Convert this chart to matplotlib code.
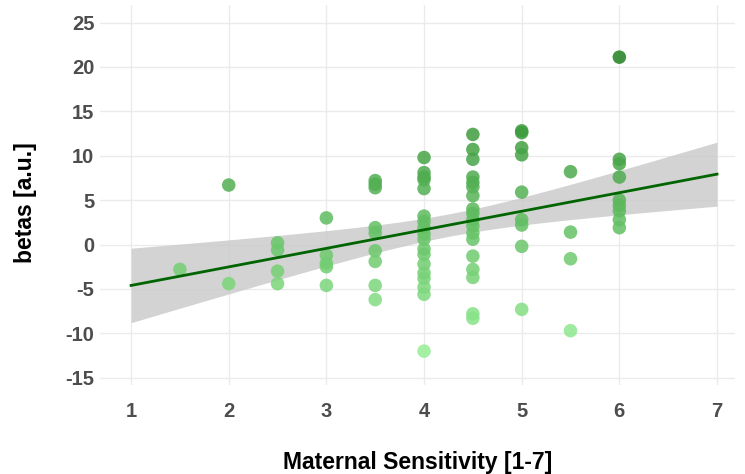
import numpy as np
import matplotlib
matplotlib.use("Agg")
import matplotlib.pyplot as plt
from matplotlib.colors import LinearSegmentedColormap

plt.rcParams["font.family"] = ["Liberation Sans Narrow", "Liberation Sans", "DejaVu Sans"]
plt.rcParams["axes.unicode_minus"] = False

# betas per maternal sensitivity rating
betas = {
    1.5: [-2.8],
    2.0: [6.7, -4.4],
    2.5: [0.2, -0.6, -3.0, -4.4],
    3.0: [3.0, -1.2, -2.1, -2.5, -4.6],
    3.5: [7.2, 6.8, 6.4, 1.9, 1.3, -0.7, -1.9, -4.6, -6.2],
    4.0: [9.8, 8.1, 7.6, 7.3, 6.3, 3.2, 2.6, 1.9, 1.2, 0.6, -0.5, -1.1, -2.2,
          -3.2, -3.8, -4.8, -5.6, -12.0],
    4.5: [12.4, 10.7, 9.6, 7.6, 7.0, 6.5, 5.5, 4.0, 3.5, 2.8, 2.1, 1.3, 0.6,
          -1.3, -2.8, -3.7, -7.8, -8.3],
    5.0: [12.8, 12.6, 10.9, 10.1, 5.9, 2.8, 2.2, -0.2, -7.3],
    5.5: [8.2, 1.4, -1.6, -9.7],
    6.0: [21.1, 9.6, 9.1, 7.6, 5.0, 4.4, 3.8, 2.8, 1.9],
}

x = np.concatenate([[k] * len(v) for k, v in betas.items()])
y = np.concatenate([v for v in betas.values()])

# linear fit with 95% confidence band
n = len(x)
b1, b0 = np.polyfit(x, y, 1)
xs = np.linspace(1, 7, 200)
ys = b0 + b1 * xs
resid = y - (b0 + b1 * x)
s = np.sqrt(np.sum(resid ** 2) / (n - 2))
se = s * np.sqrt(1 / n + (xs - x.mean()) ** 2 / np.sum((x - x.mean()) ** 2))
t = 1.99
lo, hi = ys - t * se, ys + t * se

cmap = LinearSegmentedColormap.from_list("greens", ["#95ee95", "#1f7f1f"])

fig = plt.figure(figsize=(7.45, 4.74), dpi=100)
ax = fig.add_axes([0.134, 0.188, 0.852, 0.802])

ax.fill_between(xs, lo, hi, color="#c8c8c8", alpha=0.8, linewidth=0, zorder=2)
ax.scatter(x, y, c=y, cmap=cmap, s=95, alpha=0.85, linewidths=0, zorder=3)
ax.plot(xs, ys, color="#006400", linewidth=2, zorder=4)

ax.set_xlim(0.68, 7.18)
ax.set_ylim(-15.8, 27)
ax.set_xticks(range(1, 8))
ax.set_yticks(range(-15, 26, 5))
ax.grid(True, color="#ebebeb", linewidth=1)
ax.set_axisbelow(True)
for sp in ax.spines.values():
    sp.set_visible(False)
ax.tick_params(length=0, labelsize=14.5, labelcolor="#4d4d4d")
ax.tick_params(axis="x", pad=12)
ax.tick_params(axis="y", pad=4)
for lab in ax.get_xticklabels() + ax.get_yticklabels():
    lab.set_fontweight("bold")

ax.set_xlabel("Maternal Sensitivity [1-7]", fontsize=16.5, fontweight="bold")
ax.set_ylabel("betas [a.u.]", fontsize=16.5, fontweight="bold")
ax.xaxis.set_label_coords(0.5, -0.175)
ax.yaxis.set_label_coords(-0.099, 0.48)

fig.savefig("out.png", dpi=100)
